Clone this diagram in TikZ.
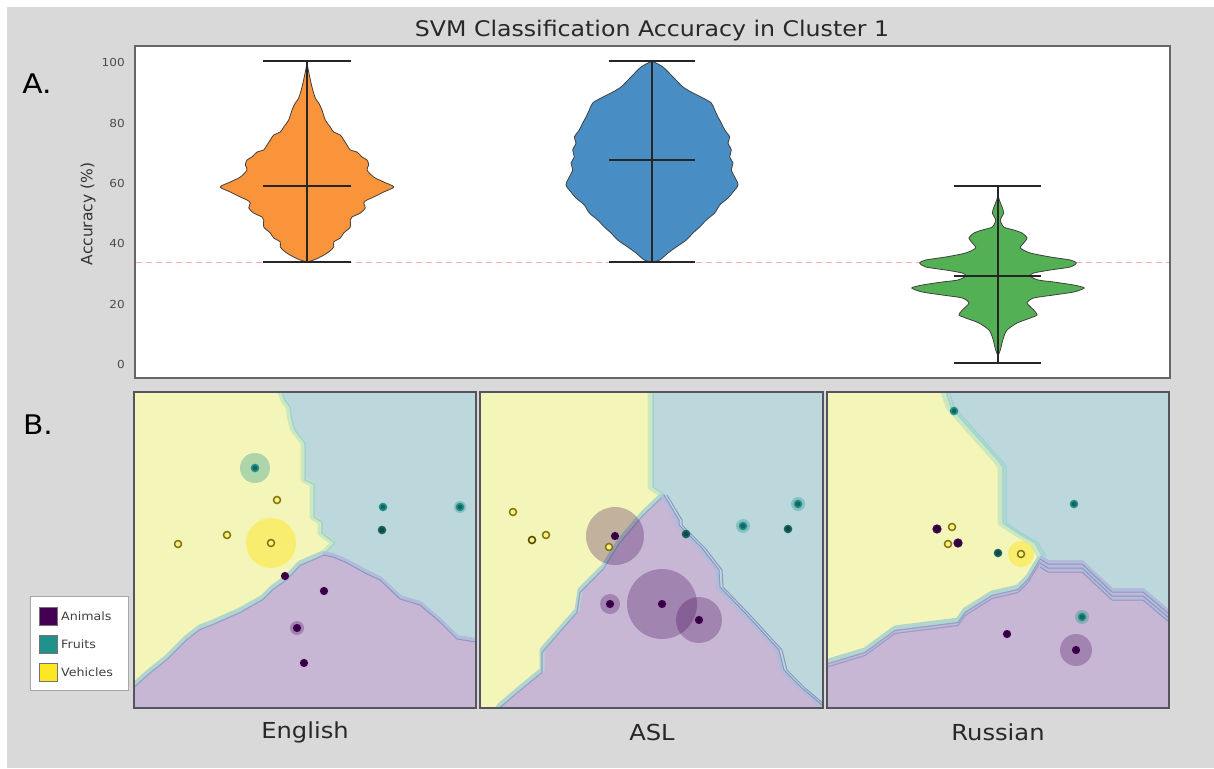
\documentclass[tikz,border=0pt]{standalone}
\usepackage{fontspec}
\setmainfont{DejaVu Sans}[FakeStretch=1.1]
\newfontfamily\plainfont{DejaVu Sans}
\definecolor{panel}{RGB}{217,217,217}
\definecolor{ybg}{RGB}{244,245,184}
\definecolor{tbg}{RGB}{189,216,221}
\definecolor{pbg}{RGB}{199,183,213}
\definecolor{vanim}{RGB}{68,1,84}
\definecolor{vfruit}{RGB}{33,145,140}
\definecolor{vveh}{RGB}{253,231,37}
\definecolor{vorange}{RGB}{250,148,58}
\definecolor{vblue}{RGB}{72,142,196}
\definecolor{vgreen}{RGB}{84,176,84}
\definecolor{txt}{RGB}{40,40,40}
\definecolor{bandyt}{RGB}{203,232,192}
\definecolor{bandyt2}{RGB}{160,212,205}
\definecolor{bandyp}{RGB}{178,214,206}
\definecolor{bandyp2}{RGB}{150,160,200}
\definecolor{bandpt}{RGB}{178,188,218}
\definecolor{bandpt2}{RGB}{140,150,195}
\definecolor{frm}{RGB}{85,85,95}
\begin{document}
\begin{tikzpicture}[x=1pt,y=-1pt,
  violin/.style={draw=black!75, line width=0.8pt},
  whisk/.style={draw=black!85, line width=1.5pt},
  frame/.style={draw=frm, line width=1.5pt},
  byt/.style={draw=bandyt, line width=5pt, line join=round},
  byt2/.style={draw=bandyt2, line width=1.5pt, line join=round},
  byp/.style={draw=bandyp, line width=5pt, line join=round},
  byp2/.style={draw=bandyp2, line width=1.2pt, line join=round},
  bpt/.style={draw=bandpt, line width=4pt, line join=round},
  bpt2/.style={draw=bandpt2, line width=1pt, line join=round},
  pa/.style={fill=vanim!70!black, draw=vanim, line width=1.2pt},
  pf/.style={fill=vfruit!70!black, draw=vfruit, line width=1.5pt},
  pfd/.style={fill=vfruit!50!black, draw=vfruit!70!black, line width=1.5pt},
  pv/.style={fill=vveh!60, draw=vveh!50!black, line width=1.5pt},
  ha/.style={fill=vanim, opacity=0.28},
  hf/.style={fill=vfruit, opacity=0.33},
  hv/.style={fill=vveh, opacity=0.5},
  tick/.style={anchor=east, text=black!70, font=\fontsize{11}{12}\selectfont, inner sep=1pt},
  lang/.style={text=txt, font=\fontsize{22}{26}\selectfont},
  leg/.style={anchor=west, text=black!75, font=\fontsize{11.5}{13}\selectfont, inner sep=1pt}
]
\useasboundingbox (0,0) rectangle (1214,768);
\fill[white] (0,0) rectangle (1214,768);
\fill[panel] (7,7) rectangle (1214,768);

% ---------- Panel A ----------
\node[text=txt, font=\fontsize{21.5}{24}\selectfont] (title) at (652,31) {SVM Classification Accuracy in Cluster 1};
\node[text=black, font=\fontsize{27}{30}\selectfont] (labA) at (37,84) {A.};
\filldraw[fill=white, draw=black!60, line width=1.2pt] (135,46) rectangle (1170,378);
\node[rotate=90, text=black!80, font=\plainfont\fontsize{15.5}{18}\selectfont] (ylab) at (88,214) {Accuracy (\%)};
\node[tick] (t100) at (126,62) {100};
\node[tick] (t80) at (126,123) {80};
\node[tick] (t60) at (126,183) {60};
\node[tick] (t40) at (126,243) {40};
\node[tick] (t20) at (126,304) {20};
\node[tick] (t0) at (126,364) {0};
\draw[draw={rgb,255:red,255;green,170;blue,170}, line width=1pt, dash pattern=on 6pt off 4pt] (136,262) -- (1169,262);

% orange violin
\foreach \s in {1,-1}{
\begin{scope}[shift={(307,0)}, xscale=\s]
\filldraw[violin, fill=vorange] plot[smooth, tension=0.5] coordinates {(0,63) (1.7,72) (5,87) (8.3,98) (11.7,103) (15,110) (18.3,120) (23.3,127) (26.7,132) (33.3,135) (36.7,140) (40,145) (43.3,150) (50,152) (55,157) (60,160) (61.7,165) (60,170) (66.7,177) (76.7,182) (86.7,187) (76.7,192) (66.7,197) (60,200) (56.7,203) (58.3,208) (53.3,213) (45,217) (43.3,220) (43.3,227) (36.7,233) (33.3,238) (26.7,242) (26.7,247) (21.7,252) (13.3,257) (6.7,260) (0,262)} -- cycle;
\end{scope}}
\draw[whisk] (263,61) -- (351,61);
\draw[whisk] (263,262) -- (351,262);
\draw[whisk] (263,186) -- (351,186);
\draw[whisk] (307,61) -- (307,262);

% blue violin
\foreach \s in {1,-1}{
\begin{scope}[shift={(652,0)}, xscale=\s]
\filldraw[violin, fill=vblue] plot[smooth, tension=0.5] coordinates {(0,61) (11,67) (21,77) (31,87) (41,93) (51,98) (59.3,103) (62.7,110) (66,117) (69.3,123) (72.7,130) (77.7,137) (76,143) (79.3,150) (77.7,157) (81,163) (79.3,170) (82.7,177) (86,185) (81,192) (76,198) (67.7,205) (62.7,213) (54.3,220) (47.7,227) (41,233) (34.3,240) (24.3,247) (16,253) (7.7,260) (0,262)} -- cycle;
\end{scope}}
\draw[whisk] (609,61) -- (695,61);
\draw[whisk] (609,262) -- (695,262);
\draw[whisk] (609,160) -- (695,160);
\draw[whisk] (652,61) -- (652,262);

% green violin
\foreach \s in {1,-1}{
\begin{scope}[shift={(998,0)}, xscale=\s]
\filldraw[violin, fill=vgreen] plot[smooth, tension=0.4] coordinates {(0,195) (1.3,200) (4,207) (5.7,213) (2.3,220) (5.7,227) (15.7,230) (24,233) (29,238) (25.7,243) (22.3,248) (32.3,253) (52.3,257) (72.3,260) (78.3,263) (72.3,267) (52.3,270) (35.7,273) (32,276) (40,280) (55.7,282) (75.7,285) (86.3,288) (75.7,292) (55.7,295) (35.7,298) (29,303) (35.7,310) (39,315) (32.3,318) (19,323) (9,330) (5.7,337) (4,343) (2.3,350) (0,356)} -- cycle;
\end{scope}}
\draw[whisk] (954,186) -- (1041,186);
\draw[whisk] (954,363) -- (1041,363);
\draw[whisk] (954,276) -- (1041,276);
\draw[whisk] (998,186) -- (998,363);

% ---------- Panel B ----------
\node[text=black, font=\fontsize{27}{30}\selectfont] (labB) at (38,425) {B.};

% English
\def\EYT{-- (283,400) -- (288,407) -- (290,420) -- (293,430) -- (303,443) -- (303,480) -- (312,484) -- (312,517) -- (320,522) -- (320,533) -- (333,543) -- (323,553)}
\def\EYP{-- (300,563) -- (287,577) -- (273,587) -- (263,597) -- (240,610) -- (213,622) -- (200,627) -- (187,637) -- (167,657) -- (147,673) -- (134,685)}
\def\EPT{-- (333,555) -- (345,560) -- (367,572) -- (380,578) -- (400,597) -- (420,603) -- (440,620) -- (457,637) -- (476,640)}
\begin{scope}
\clip (134,392) rectangle (476,708);
\fill[pbg] (134,392) rectangle (476,708);
\fill[tbg] (280,392) \EYT \EPT -- (476,392) -- cycle;
\fill[ybg] (134,392) -- (280,392) \EYT \EYP -- cycle;
\draw[byt] (280,392) \EYT;
\draw[byt2, xshift=2pt] (280,392) \EYT;
\draw[byp] (323,553) \EYP;
\draw[byp2, yshift=-2.5pt] (323,553) \EYP;
\draw[bpt] (323,553) \EPT;
\draw[bpt2, yshift=-2pt] (323,553) \EPT;
\fill[hf] (255,468) circle[radius=15pt];
\fill[hv] (271,543) circle[radius=25pt];
\fill[ha] (297,628) circle[radius=7pt];
\fill[hf] (460,507) circle[radius=6pt];
\filldraw[pf] (255,468) circle[radius=3.5pt];
\filldraw[pv] (277,500) circle[radius=3.5pt];
\filldraw[pf] (383,507) circle[radius=3.5pt];
\filldraw[pf] (460,507) circle[radius=3.5pt];
\filldraw[pfd] (382,530) circle[radius=3.5pt];
\filldraw[pv] (227,535) circle[radius=3.5pt];
\filldraw[pv] (178,544) circle[radius=3.5pt];
\filldraw[pv] (271,543) circle[radius=3.5pt];
\filldraw[pa] (285,576) circle[radius=3.5pt];
\filldraw[pa] (324,591) circle[radius=3.5pt];
\filldraw[pa] (297,628) circle[radius=3.5pt];
\filldraw[pa] (304,663) circle[radius=3.5pt];
\end{scope}
\draw[frame] (134,392) rectangle (476,708);

% ASL
\def\AYT{-- (650,487) -- (662,495)}
\def\AYP{-- (643,513) -- (620,540) -- (603,567) -- (590,580) -- (580,590) -- (577,610) -- (555,635) -- (542,650) -- (542,670) -- (520,688) -- (500,705) -- (495,712)}
\def\APT{-- (668,505) -- (677,520) -- (677,525) -- (700,548) -- (717,570) -- (718,587) -- (745,615) -- (777,650) -- (782,670) -- (800,688) -- (826,710)}
\begin{scope}
\clip (480,392) rectangle (823,708);
\fill[pbg] (480,392) rectangle (823,708);
\fill[tbg] (650,392) \AYT \APT -- (830,392) -- cycle;
\fill[ybg] (480,392) -- (650,392) \AYT \AYP -- (480,712) -- cycle;
\draw[byt] (650,388) \AYT;
\draw[byt2, xshift=3pt] (650,388) \AYT;
\draw[byp] (662,495) \AYP;
\draw[byp2, yshift=-2.5pt] (662,495) \AYP;
\draw[bpt] (662,495) \APT;
\draw[bpt2, xshift=2pt] (662,495) \APT;
\draw[bpt2, xshift=5pt] (662,495) \APT;
\fill[ha] (615,536) circle[radius=29pt];
\fill[ha] (662,604) circle[radius=35pt];
\fill[ha] (699,620) circle[radius=23pt];
\fill[ha] (610,604) circle[radius=10pt];
\fill[hf] (743,526) circle[radius=7pt];
\fill[hf] (798,504) circle[radius=7pt];
\filldraw[pv] (513,512) circle[radius=3.5pt];
\filldraw[pv] (546,535) circle[radius=3.5pt];
\filldraw[pv, draw=vveh!30!black] (532,540) circle[radius=3.5pt];
\filldraw[pa] (615,536) circle[radius=3.5pt];
\filldraw[pv] (609,547) circle[radius=3.5pt];
\filldraw[pfd] (686,534) circle[radius=3.5pt];
\filldraw[pf] (743,526) circle[radius=3.5pt];
\filldraw[pf] (798,504) circle[radius=3.5pt];
\filldraw[pfd] (788,529) circle[radius=3.5pt];
\filldraw[pa] (610,604) circle[radius=3.5pt];
\filldraw[pa] (662,604) circle[radius=3.5pt];
\filldraw[pa] (699,620) circle[radius=3.5pt];
\end{scope}
\draw[frame] (480,392) rectangle (823,708);

% Russian
\def\RYT{-- (948,407) -- (962,423) -- (995,460) -- (1000,467) -- (1000,523) -- (1015,533) -- (1032,543) -- (1040,557)}
\def\RYP{-- (1028,577) -- (1018,587) -- (992,593) -- (965,610) -- (958,620) -- (895,628) -- (865,650) -- (822,663)}
\def\RPT{-- (1048,562) -- (1082,562) -- (1112,590) -- (1143,590) -- (1175,617)}
\begin{scope}
\clip (827,392) rectangle (1169,708);
\fill[pbg] (827,392) rectangle (1169,708);
\fill[tbg] (942,392) \RYT \RPT -- (1175,392) -- cycle;
\fill[ybg] (822,392) -- (942,392) \RYT \RYP -- cycle;
\draw[byt] (942,388) \RYT;
\draw[byt2, xshift=3pt] (942,388) \RYT;
\draw[byt2, xshift=6pt] (942,388) \RYT;
\draw[byp] (1040,557) \RYP;
\draw[byp2, yshift=-2.5pt] (1040,557) \RYP;
\draw[byp2, yshift=-5.5pt] (1040,557) \RYP;
\draw[bpt] (1040,557) \RPT;
\draw[bpt, yshift=-6pt] (1040,557) \RPT;
\draw[bpt2, yshift=-2pt] (1040,557) \RPT;
\draw[bpt2, yshift=-6pt] (1040,557) \RPT;
\draw[bpt2, yshift=-10pt] (1040,557) \RPT;
\fill[hv] (1021,554) circle[radius=13pt];
\fill[hf] (1082,617) circle[radius=7pt];
\fill[ha] (1076,650) circle[radius=16pt];
\filldraw[pf] (954,411) circle[radius=3.5pt];
\filldraw[pf] (1074,504) circle[radius=3.5pt];
\filldraw[pa] (937,529) circle[radius=4pt];
\filldraw[pv] (952,527) circle[radius=3.5pt];
\filldraw[pv] (948,544) circle[radius=3.5pt];
\filldraw[pa] (958,543) circle[radius=4pt];
\filldraw[pfd] (998,553) circle[radius=3.5pt];
\filldraw[pv] (1021,554) circle[radius=3.5pt];
\filldraw[pf] (1082,617) circle[radius=3.5pt];
\filldraw[pa] (1007,634) circle[radius=3.5pt];
\filldraw[pa] (1076,650) circle[radius=3.5pt];
\end{scope}
\draw[frame] (827,392) rectangle (1169,708);

\node[lang] (eng) at (305,732) {English};
\node[lang] (asl) at (652,732) {ASL};
\node[lang] (rus) at (998,732) {Russian};

% legend
\filldraw[fill=white, draw=black!35, line width=0.8pt] (30,596) rectangle (128,690);
\filldraw[fill=vanim, draw=black!55, line width=0.8pt] (39,607) rectangle (57,625);
\filldraw[fill=vfruit, draw=black!55, line width=0.8pt] (39,635) rectangle (57,653);
\filldraw[fill=vveh, draw=black!55, line width=0.8pt] (39,663) rectangle (57,681);
\node[leg] (lA) at (60,616) {Animals};
\node[leg] (lF) at (60,644) {Fruits};
\node[leg] (lV) at (60,672) {Vehicles};
\end{tikzpicture}
\end{document}
